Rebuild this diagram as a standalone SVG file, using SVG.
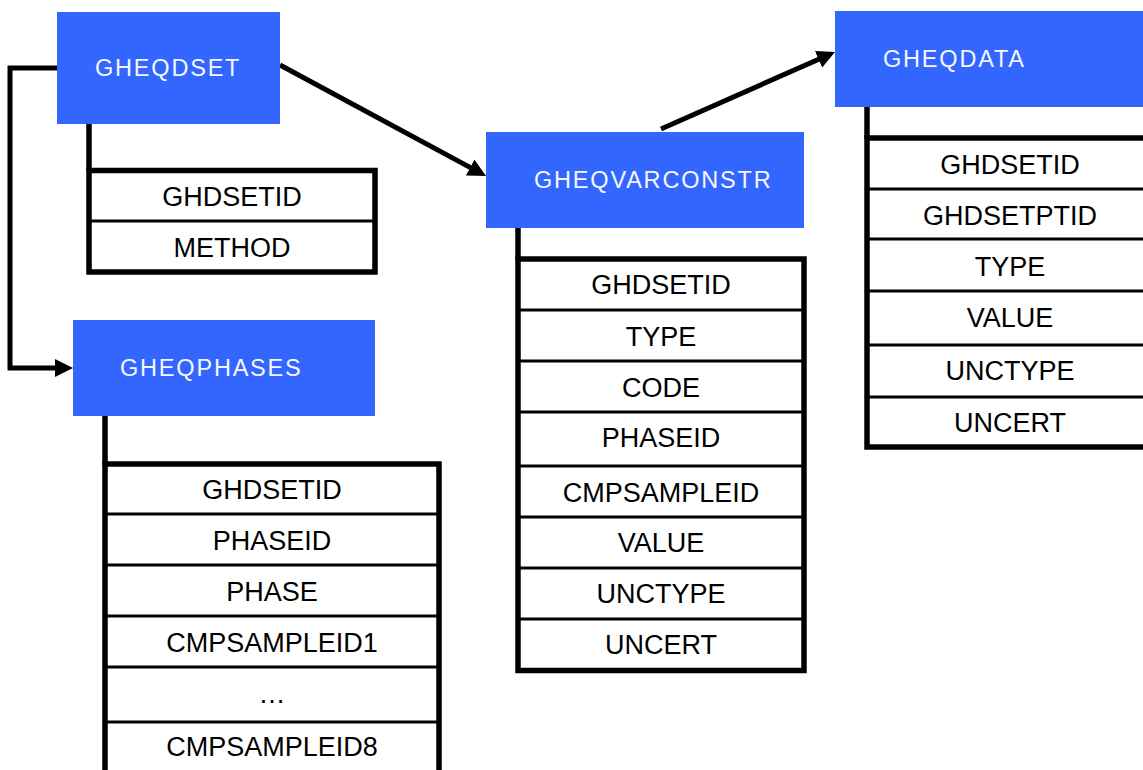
<svg xmlns="http://www.w3.org/2000/svg" width="1143" height="770" viewBox="0 0 1143 770">
<style>
.hdr{fill:#3366ff}
.hdrtxt{font-family:"Liberation Sans",Arial,sans-serif;font-size:23.5px;fill:#f4f7ff;letter-spacing:1.8px}
.tbl{fill:#ffffff;stroke:#000;stroke-width:5.5}
.div{stroke:#000;stroke-width:3}
.stem{stroke:#000;stroke-width:5.5}
.fld{font-family:"Liberation Sans",Arial,sans-serif;font-size:27px;fill:#000;text-anchor:middle}
.conn{fill:none;stroke:#000;stroke-width:5}
</style>
<defs>
<marker id="arr" markerUnits="userSpaceOnUse" viewBox="0 0 18 18" markerWidth="18" markerHeight="18" refX="4" refY="9" orient="auto">
<path d="M0,0 L18,9 L0,18 z" fill="#000"/>
</marker>
</defs>
<rect width="1143" height="770" fill="#fff"/>

<g id="connectors">
<path class="conn" d="M57,68 L10,68 L10,368 L59,368" marker-end="url(#arr)"/>
<path class="conn" d="M280,65 L473.7,169.4" marker-end="url(#arr)"/>
<path class="conn" d="M661,129 L822.2,57.7" marker-end="url(#arr)"/>
</g>

<g id="node-GHEQDSET">
<line class="stem" x1="89" y1="124" x2="89" y2="171"/>
<rect class="tbl" x="89" y="170.5" width="286" height="101.5"/>
<line class="div" x1="89" y1="221" x2="375" y2="221"/>
<text class="fld" x="232" y="206">GHDSETID</text>
<text class="fld" x="232" y="257">METHOD</text>
<rect class="hdr" x="57" y="12" width="223" height="112"/>
<text class="hdrtxt" x="95" y="76">GHEQDSET</text>
</g>

<g id="node-GHEQVARCONSTR">
<line class="stem" x1="518" y1="228" x2="518" y2="260"/>
<rect class="tbl" x="518" y="259" width="286" height="411.5"/>
<line class="div" x1="518" y1="310" x2="804" y2="310"/>
<line class="div" x1="518" y1="361" x2="804" y2="361"/>
<line class="div" x1="518" y1="412" x2="804" y2="412"/>
<line class="div" x1="518" y1="466" x2="804" y2="466"/>
<line class="div" x1="518" y1="517" x2="804" y2="517"/>
<line class="div" x1="518" y1="568" x2="804" y2="568"/>
<line class="div" x1="518" y1="619" x2="804" y2="619"/>
<text class="fld" x="661" y="294">GHDSETID</text>
<text class="fld" x="661" y="346">TYPE</text>
<text class="fld" x="661" y="397">CODE</text>
<text class="fld" x="661" y="447">PHASEID</text>
<text class="fld" x="661" y="502">CMPSAMPLEID</text>
<text class="fld" x="661" y="552">VALUE</text>
<text class="fld" x="661" y="603">UNCTYPE</text>
<text class="fld" x="661" y="654">UNCERT</text>
<rect class="hdr" x="486" y="132" width="318" height="96"/>
<text class="hdrtxt" x="534" y="188">GHEQVARCONSTR</text>
</g>

<g id="node-GHEQDATA">
<line class="stem" x1="867" y1="107" x2="867" y2="139"/>
<rect class="tbl" x="867" y="138" width="286" height="309"/>
<line class="div" x1="867" y1="189" x2="1153" y2="189"/>
<line class="div" x1="867" y1="239" x2="1153" y2="239"/>
<line class="div" x1="867" y1="291" x2="1153" y2="291"/>
<line class="div" x1="867" y1="345" x2="1153" y2="345"/>
<line class="div" x1="867" y1="397" x2="1153" y2="397"/>
<text class="fld" x="1010" y="174">GHDSETID</text>
<text class="fld" x="1010" y="225">GHDSETPTID</text>
<text class="fld" x="1010" y="276">TYPE</text>
<text class="fld" x="1010" y="327">VALUE</text>
<text class="fld" x="1010" y="380">UNCTYPE</text>
<text class="fld" x="1010" y="432">UNCERT</text>
<rect class="hdr" x="835" y="11" width="320" height="96"/>
<text class="hdrtxt" x="883" y="67">GHEQDATA</text>
</g>

<g id="node-GHEQPHASES">
<line class="stem" x1="105" y1="416" x2="105" y2="465"/>
<rect class="tbl" x="105" y="464" width="334" height="320"/>
<line class="div" x1="105" y1="514" x2="439" y2="514"/>
<line class="div" x1="105" y1="565" x2="439" y2="565"/>
<line class="div" x1="105" y1="616" x2="439" y2="616"/>
<line class="div" x1="105" y1="667" x2="439" y2="667"/>
<line class="div" x1="105" y1="722" x2="439" y2="722"/>
<text class="fld" x="272" y="499">GHDSETID</text>
<text class="fld" x="272" y="550">PHASEID</text>
<text class="fld" x="272" y="601">PHASE</text>
<text class="fld" x="272" y="652">CMPSAMPLEID1</text>
<text class="fld" x="272" y="703">…</text>
<text class="fld" x="272" y="756">CMPSAMPLEID8</text>
<rect class="hdr" x="73" y="320" width="302" height="96"/>
<text class="hdrtxt" x="120" y="376">GHEQPHASES</text>
</g>
</svg>
